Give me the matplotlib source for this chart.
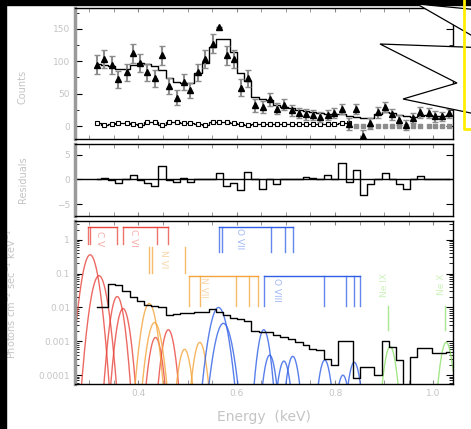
import numpy as np
import matplotlib.pyplot as plt
from matplotlib.patches import Polygon
from matplotlib.lines import Line2D
from matplotlib.transforms import IdentityTransform

# ---- data ----
energy = [0.316, 0.331, 0.347, 0.359, 0.376, 0.390, 0.404, 0.418, 0.433, 0.449,
          0.463, 0.478, 0.492, 0.506, 0.522, 0.535, 0.551, 0.565, 0.580, 0.594,
          0.608, 0.622, 0.637, 0.653, 0.667, 0.682, 0.696, 0.712, 0.727, 0.741,
          0.755, 0.769, 0.786, 0.798, 0.814, 0.829, 0.843, 0.857, 0.871, 0.888,
          0.902, 0.916, 0.931, 0.945, 0.959, 0.973, 0.990, 1.004, 1.018, 1.032]
counts = [95, 104, 94, 72, 83, 112, 97, 83, 74, 109,
          62, 44, 68, 55, 83, 103, 127, 153, 109, 103,
          59, 74, 32, 29, 41, 27, 33, 24, 20, 18,
          17, 14, 17, 20, 26, 3, 26, -15, 4, 21,
          29, 18, 9, 2, 12, 21, 20, 15, 15, 20]
counts_err = [15, 14, 14, 13, 13, 15, 14, 13, 13, 14,
              12, 12, 13, 12, 13, 14, 15, 0, 15, 14,
              13, 13, 10, 9, 10, 9, 9, 8, 8, 8,
              8, 8, 8, 8, 8, 9, 8, 9, 8, 8,
              8, 8, 8, 8, 8, 8, 8, 8, 7, 7]
model = [96, 95, 92, 88, 88, 95, 97, 96, 92, 86,
         74, 68, 67, 67, 82, 98, 122, 135, 135, 115,
         82, 70, 45, 42, 40, 33, 30, 28, 25, 23,
         21, 20, 19, 19, 18, 15, 14, 12, 13, 18,
         22, 20, 17, 15, 14, 16, 17, 16, 16, 17]
background = [5, 2, 3, 5, 5, 3, 2, 7, 7, 2,
              6, 6, 4, 4, 3, 1, 6, 7, 6, 4,
              3, 2, 3, 3, 3, 3, 3, 3, 3, 3,
              3, 3, 3, 3, 5, 4]
background_hi = [0, 0, 0, 0, 0, 0, 0, 0, 0, 0, 0, 0, 0, 0]
residuals = [0.0, 0.2, -0.2, -0.8, 0.0, 1.0, -0.2, -0.8, -1.4, 2.7,
             -0.1, -0.5, 0.2, -0.6, 0.0, 0.0, 0.0, 1.4, -1.4, -0.7,
             -2.2, 1.6, 0.0, -2.0, 0.0, -1.0, 0.0, 0.0, 0.1, 0.4,
             0.2, 0.0, 1.0, 0.0, 3.3, -0.6, 2.0, -3.2, -1.0, 0.0,
             1.4, 0.0, -1.0, -2.0, 0.0, 0.8, 0.1, 0.0, 0.0, 0.0]
flux = [0.01, 0.01, 0.05, 0.045, 0.03, 0.02, 0.016, 0.012, 0.011, 0.01,
        0.0058, 0.0065, 0.007, 0.007, 0.0075, 0.0075, 0.009, 0.0075, 0.006, 0.005,
        0.0045, 0.004, 0.002, 0.0019, 0.0019, 0.0015, 0.0013, 0.0012, 0.00095, 0.0008,
        0.0006, 0.00054, 0.0003, 0.0002, 0.001, 0.001, 0.00008, 0.00018, 0.00018, 0.0001,
        0.001, 0.0007, 0.00028, 0.00004, 0.00034, 0.00063, 0.00063, 0.00045, 0.00045, 0.0005]

# gaussian line components (centre keV, peak, sigma keV, colour)
comp_center = [0.302, 0.320, 0.357, 0.369, 0.435, 0.461,
               0.422, 0.433, 0.494, 0.525,
               0.563, 0.573, 0.655, 0.667, 0.696, 0.714, 0.779, 0.816, 0.839,
               0.912, 1.026]
comp_peak = [0.36, 0.087, 0.021, 0.0093, 0.0013, 0.0022,
             0.013, 0.0036, 0.00058, 0.00093,
             0.01, 0.0034, 0.0022, 0.00039, 0.00026, 0.00036, 0.00028, 0.0001, 0.00024,
             0.0007, 0.00093]
comp_sigma = [0.0092, 0.0092, 0.0078, 0.0078, 0.0076, 0.0076,
              0.0086, 0.0086, 0.0075, 0.0075,
              0.0102, 0.0102, 0.0072, 0.0072, 0.0072, 0.0072, 0.0072, 0.0072, 0.0072,
              0.0071, 0.0071]
RED, ORANGE, BLUE, GREEN = '#e8453c', '#f4a43a', '#2f5fe6', '#8ee06a'
comp_color = [RED] * 6 + [ORANGE] * 4 + [BLUE] * 9 + [GREEN] * 2

# line identifications
ion_labels = ['C V', 'C VI', 'N VI', 'N VII', 'O VII', 'O VIII', 'Ne IX', 'Ne X']
ion_colors = [RED, RED, ORANGE, ORANGE, BLUE, BLUE, GREEN, GREEN]
ion_lines = [[0.298, 0.302, 0.357], [0.369, 0.437, 0.461], [0.422, 0.427, 0.494],
             [0.502, 0.526, 0.598, 0.626, 0.643], [0.563, 0.571, 0.669, 0.698, 0.714],
             [0.655, 0.777, 0.822, 0.839, 0.851], [0.908], [1.024]]
ion_top = [2.4, 2.4, 0.62, 0.087, 2.4, 0.087, 0.0107, 0.0107]
ion_bottom = [0.76, 0.76, 0.107, 0.0107, 0.44, 0.0107, 0.0022, 0.0022]
ion_bar = [True, True, False, True, True, True, False, False]
ion_label_x = [0.322, 0.390, 0.451, 0.533, 0.606, 0.680, 0.900, 1.016]
ion_label_y = [1.1, 1.1, 0.26, 0.039, 1.1, 0.032, 0.047, 0.047]

LABEL = '#c4c4c4'
xlim = (0.271, 1.04)

fig = plt.figure(figsize=(4.71, 4.29), dpi=100)
ax1 = fig.add_axes([0.159, 0.676, 0.803, 0.305])
ax2 = fig.add_axes([0.159, 0.4965, 0.803, 0.168])
ax3 = fig.add_axes([0.159, 0.105, 0.803, 0.38])


def style(ax):
    ax.set_xlim(*xlim)
    ax.set_xticks([0.4, 0.6, 0.8, 1.0])
    ax.set_xticks(np.arange(0.3, 1.05, 0.05), minor=True)
    ax.tick_params(axis='x', which='both', direction='in', top=True, bottom=True,
                   color='#888888', length=3, labelsize=6.5, labelcolor=LABEL)
    ax.tick_params(axis='y', which='both', direction='in', left=True, right=True,
                   color='black', labelsize=6.5, labelcolor=LABEL)
    ax.tick_params(axis='y', which='major', length=5)
    ax.tick_params(axis='y', which='minor', length=3)
    ax.spines['left'].set_color('#9a9a9a')
    ax.spines['left'].set_linewidth(2.5)
    for s in ['top', 'bottom', 'right']:
        ax.spines[s].set_linewidth(1.0)


# ---- top: counts ----
style(ax1)
ax1.step(energy, model, where='mid', color='black', lw=1.0, zorder=2)
eb = ax1.errorbar(energy, counts, yerr=counts_err, fmt='^', color='black', ms=5,
                  ecolor='#8c8c8c', elinewidth=1.5, capsize=2, zorder=3)
for cap in eb[1]:
    cap.set_color('black')
nb = len(background)
ax1.step(energy[:nb], background, where='mid', color='black', lw=0.9)
ax1.plot(energy[:nb], background, 's', mfc='white', mec='black', ms=3.5, mew=0.8)
ax1.plot(energy[nb:], background_hi, 's', color='#8c8c8c', ms=2.5)
ax1.set_ylim(-20, 182)
ax1.set_yticks([0, 50, 100, 150])
ax1.set_yticks([25, 75, 125, 175], minor=True)
ax1.tick_params(axis='x', labelbottom=False)
ax1.set_ylabel('Counts', color=LABEL, fontsize=7)
ax1.yaxis.set_label_coords(-0.125, 0.4)

# ---- middle: residuals ----
style(ax2)
ax2.axhline(0, color='black', lw=1.0)
ax2.step(energy, residuals, where='mid', color='black', lw=1.0)
ax2.set_ylim(-7.4, 7.2)
ax2.set_yticks([-5, 0, 5])
ax2.tick_params(axis='x', labelbottom=False)
ax2.set_ylabel('Residuals', color=LABEL, fontsize=7)
ax2.yaxis.set_label_coords(-0.125, 0.5)

# ---- bottom: unfolded spectrum ----
style(ax3)
ax3.set_yscale('log')
ax3.set_ylim(5.5e-5, 3.6)
ax3.set_xlim(*xlim)
ax3.set_yticks([1e-4, 1e-3, 1e-2, 1e-1, 1])
ax3.set_yticklabels(['0.0001', '0.001', '0.01', '0.1', '1'])
ax3.step(energy, flux, where='mid', color='black', lw=1.0, zorder=3)

egrid = np.linspace(xlim[0], xlim[1], 1500)
for c, p, s, col in zip(comp_center, comp_peak, comp_sigma, comp_color):
    prof = p * np.exp(-0.5 * ((egrid - c) / s) ** 2)
    prof[prof < 1e-6] = np.nan
    ax3.plot(egrid, prof, color=col, lw=1.0, alpha=0.8, zorder=2)

for lab, col, lines, top, bot, bar, lx, ly in zip(ion_labels, ion_colors, ion_lines,
                                                  ion_top, ion_bottom, ion_bar,
                                                  ion_label_x, ion_label_y):
    for e in lines:
        ax3.plot([e, e], [bot, top], color=col, lw=1.0, alpha=0.75)
    if bar:
        ax3.plot([lines[0], lines[-1]], [top, top], color=col, lw=1.0)
    rot = 90 if col == GREEN else 270
    ax3.text(lx, ly, lab, color=col, alpha=0.45, fontsize=6.5, rotation=rot,
             ha='center', va='center')

ax3.set_xlabel('Energy  (keV)', color=LABEL, fontsize=10)
ax3.xaxis.set_label_coords(0.5, -0.16)
ax3.set_ylabel('Photons cm$^{-2}$ sec$^{-1}$ keV$^{-1}$', color=LABEL, fontsize=7)
ax3.yaxis.set_label_coords(-0.15, 0.55)

# ---- page decorations (pixel coordinates, origin bottom-left) ----
H = 429
tr = IdentityTransform()
fig.patches.append(plt.Rectangle((0, 0), 6, H, color='black', transform=tr))
fig.patches.append(plt.Rectangle((0, H - 5), 471, 5, color='black', transform=tr))
callout = [(490, H - 11), (417, H - 4), (490, H - 46), (490, H - 48), (380, H - 44),
           (457, H - 83), (403, H - 99), (490, H - 117)]
fig.patches.append(Polygon(callout, closed=True, facecolor='white', edgecolor='black',
                           lw=0.9, transform=tr, zorder=5))
fig.lines.append(Line2D([464, 464, 475], [H, H - 129, H - 129], color='#ffee00',
                        lw=2.0, transform=tr, zorder=6))

fig.savefig('out.png', dpi=100)
